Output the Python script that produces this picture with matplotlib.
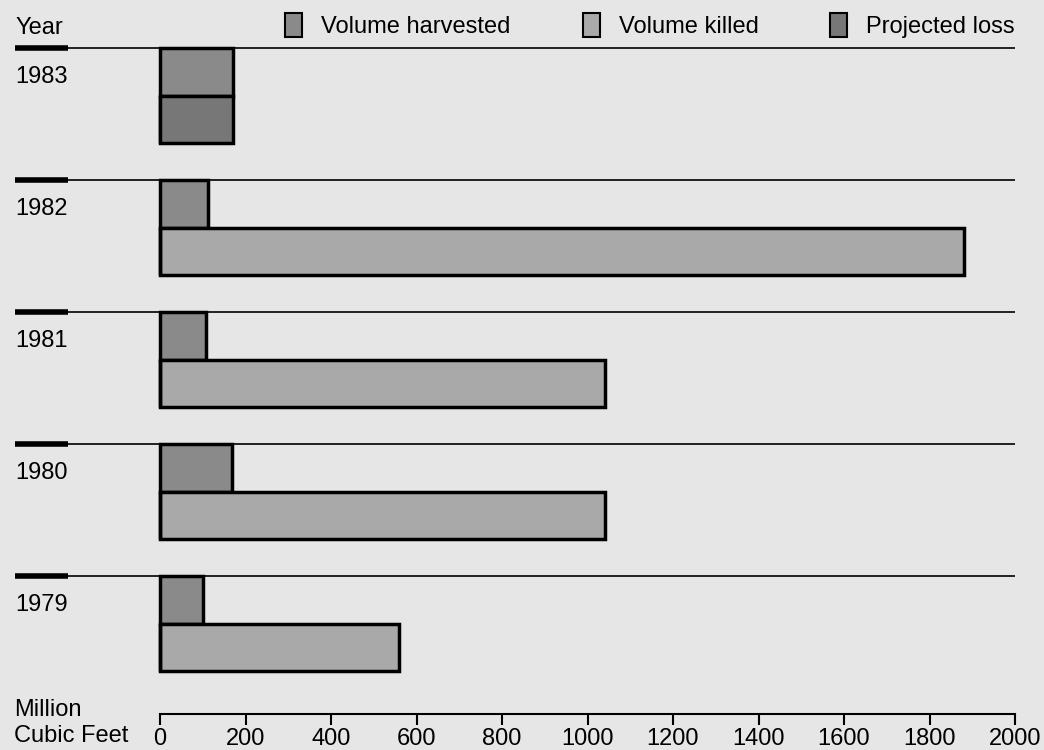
import numpy as np
import matplotlib
matplotlib.use('Agg')
import matplotlib.pyplot as plt
from matplotlib.patches import Rectangle

plt.rcParams['font.family'] = ['Liberation Sans', 'DejaVu Sans']

# data (million cubic feet), top to bottom
years = ['1983', '1982', '1981', '1980', '1979']
harvested = [170, 112, 108, 168, 100]
killed = [0, 1880, 1040, 1040, 560]
projected = [170, 0, 0, 0, 0]
ticks = [0, 200, 400, 600, 800, 1000, 1200, 1400, 1600, 1800, 2000]

c_harv = '#8a8a8a'
c_kill = '#a9a9a9'
c_proj = '#777777'
bg = '#e6e6e6'
fs = 17

fig = plt.figure(figsize=(10.44, 7.5), dpi=100, facecolor=bg)
# axes spans x pixel 15..1015, full height
ax = fig.add_axes([15 / 1044, 0, 1000 / 1044, 1])
ax.set_facecolor(bg)
xmin = -145 * 2000 / 855
ax.set_xlim(xmin, 2000)
ax.set_ylim((750 - 48) / 132, -48 / 132)

h = 0.36
idx = np.arange(len(years))
ax.barh(idx + h / 2, harvested, height=h, left=0, color=c_harv,
        edgecolor='black', linewidth=2.5)
ax.barh(idx + 1.5 * h, killed, height=h, left=0, color=c_kill,
        edgecolor='black', linewidth=2.5)
ax.barh(idx + 1.5 * h, projected, height=h, left=0, color=c_proj,
        edgecolor='black', linewidth=2.5)

for i, y in enumerate(years):
    ax.plot([xmin, 2000], [i, i], color='black', lw=1.2, zorder=3)
    ax.plot([xmin, xmin + 53 * 2000 / 855], [i, i], color='black', lw=4, zorder=3,
            solid_capstyle='butt')
    ax.text(xmin, i + 0.22, y, fontsize=fs, va='center', ha='left')

for s in ['top', 'right', 'left']:
    ax.spines[s].set_visible(False)
ax.spines['bottom'].set_position(('data', (714 - 48) / 132))
ax.spines['bottom'].set_bounds(0, 2000)
ax.spines['bottom'].set_linewidth(1.5)
ax.set_xticks(ticks)
ax.set_xticklabels([str(t) for t in ticks], fontsize=fs)
ax.tick_params(axis='x', direction='out', length=8, width=1.5, pad=2)
ax.set_yticks([])
ax.text(xmin - 3, (723 - 48) / 132, 'Million\nCubic Feet', fontsize=fs,
        va='center', ha='left', linespacing=1.2)

# legend row
fig.text(15 / 1044, 1 - 28 / 750, 'Year', fontsize=fs, va='center', ha='left')
leg = [('Volume harvested', c_harv, 285), ('Volume killed', c_kill, 583),
       ('Projected loss', c_proj, 830)]
for lab, col, px in leg:
    fig.patches.append(Rectangle((px / 1044, 1 - 37 / 750), 17 / 1044, 24 / 750,
                                 transform=fig.transFigure, facecolor=col,
                                 edgecolor='black', linewidth=1.5))
    fig.text((px + 36) / 1044, 1 - 27 / 750, lab, fontsize=fs, va='center', ha='left')

fig.savefig('out.png', dpi=100, facecolor=bg)
